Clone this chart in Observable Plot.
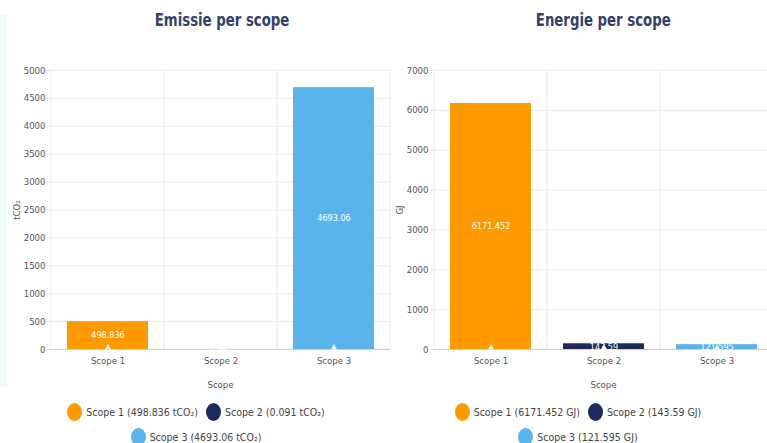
<!DOCTYPE html>
<html>
<head>
<meta charset="utf-8">
<script src="https://cdn.jsdelivr.net/npm/d3@7"></script>
<script src="https://cdn.jsdelivr.net/npm/@observablehq/plot@0.6"></script>
<style>
  html, body { margin: 0; padding: 0; background: #fff; width: 767px; height: 443px; overflow: hidden; }
  body { position: relative; font-family: "DejaVu Sans Condensed", "DejaVu Sans", sans-serif; font-stretch: condensed; }
  .strip { position: absolute; left: 0; top: 15px; width: 7px; height: 372px; background: #eefaf5; }
  .title { position: absolute; top: 9px; text-align: center; font-weight: bold; font-size: 18px; color: #33406e; }
  .title span { display: inline-block; transform: scaleX(0.82); transform-origin: center; }
  .chart { position: absolute; top: 40px; width: 390px; }
  .chart svg { max-width: none !important; }
  .legend { position: absolute; text-align: center; font-size: 10.5px; color: #444; }
  .row { display: flex; justify-content: center; align-items: center; height: 25px; }
  .item { display: inline-flex; align-items: center; margin: 0 4px; }
  .sw { display: inline-block; width: 15px; height: 18px; border-radius: 50%; margin-right: 4px; }
</style>
</head>
<body>
<div class="strip"></div>
<div class="title" style="left:50px;width:345px;"><span>Emissie per scope</span></div>
<div class="title" style="left:433px;width:340px;"><span>Energie per scope</span></div>
<div id="c1" class="chart" style="left:0px;"></div>
<div id="c2" class="chart" style="left:383px;"></div>
<div id="l1" class="legend" style="left:0px;width:392px;top:399px;"></div>
<div id="l2" class="legend" style="left:383px;width:390px;top:399px;"></div>
<script>
const scopes = ["Scope 1", "Scope 2", "Scope 3"];
const emissions = [498.836, 0.091, 4693.06];
const energy = [6171.452, 143.59, 121.595];
const colors = ["#ff9900", "#1c2a5e", "#5bb3ec"];
const emissionTicks = [0, 500, 1000, 1500, 2000, 2500, 3000, 3500, 4000, 4500, 5000];
const energyTicks = [0, 1000, 2000, 3000, 4000, 5000, 6000, 7000];
const emissionUnit = "tCO₂";
const energyUnit = "GJ";

const FONT = '"DejaVu Sans Condensed", "DejaVu Sans", sans-serif';

function chart(values, ticks, yLabel) {
  const max = ticks[ticks.length - 1];
  const data = scopes.map((s, i) => ({scope: s, value: values[i]}));
  const p = Plot.plot({
    width: 390, height: 355,
    marginTop: 30, marginBottom: 46, marginLeft: 50, marginRight: 0,
    style: {fontFamily: FONT, fontStretch: "condensed", fontSize: "9.5px", color: "#555", background: "transparent", overflow: "visible"},
    x: {domain: scopes, padding: 0},
    y: {domain: [0, max]},
    color: {domain: scopes, range: colors},
    marks: [
      Plot.gridY(ticks, {stroke: "#eeeeee", strokeOpacity: 1}),
      Plot.barY(scopes, {x: d => d, y1: 0, y2: max, fill: "none", stroke: "#f0f0f0"}),
      Plot.barY(data, {x: "scope", y: "value", fill: "scope", insetLeft: 16, insetRight: 16}),
      Plot.ruleY([0], {stroke: "#cfcfcf"}),
      Plot.text(data, {x: "scope", y: d => d.value / 2, text: d => String(d.value), fill: "white", fontSize: 9}),
      Plot.dot(data, {x: "scope", y: 0, symbol: "triangle", r: 2.2, fill: "white", dy: -2}),
      Plot.axisY(ticks, {tickSize: 3, tickPadding: 2, stroke: "#ddd", tickFormat: d => String(d), label: yLabel, labelAnchor: "center", labelOffset: 37, labelArrow: "none", fontSize: 9.5}),
      Plot.axisX({tickSize: 0, tickPadding: 8, label: "Scope", labelAnchor: "center", labelOffset: 38, labelArrow: "none", fontSize: 9.5})
    ]
  });
  p.style.maxWidth = "none";
  return p;
}

function legend(el, values, unit) {
  const rows = [[0, 1], [2]];
  rows.forEach(r => {
    const row = document.createElement("div");
    row.className = "row";
    r.forEach(i => {
      const it = document.createElement("span");
      it.className = "item";
      const sw = document.createElement("span");
      sw.className = "sw";
      sw.style.background = colors[i];
      it.appendChild(sw);
      it.appendChild(document.createTextNode(`${scopes[i]} (${values[i]} ${unit})`));
      row.appendChild(it);
    });
    el.appendChild(row);
  });
}

document.getElementById("c1").appendChild(chart(emissions, emissionTicks, emissionUnit));
document.getElementById("c2").appendChild(chart(energy, energyTicks, energyUnit));
legend(document.getElementById("l1"), emissions, emissionUnit);
legend(document.getElementById("l2"), energy, energyUnit);
</script>
</body>
</html>
